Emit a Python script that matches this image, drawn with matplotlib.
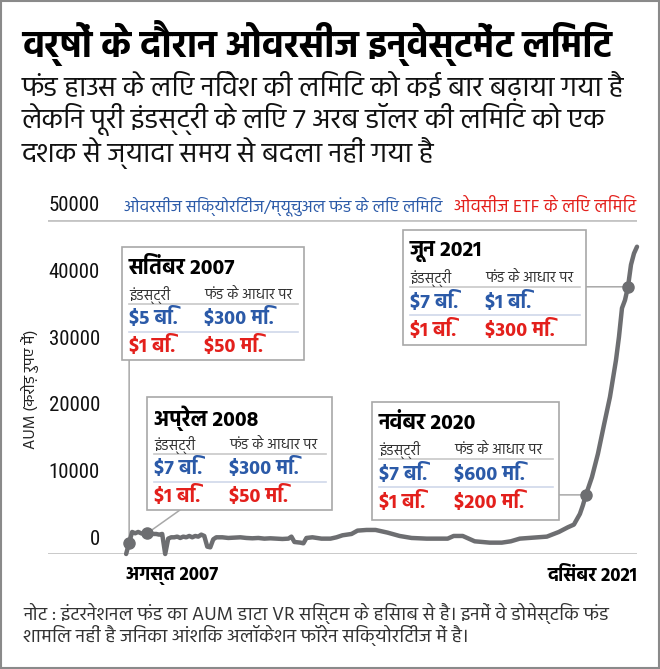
import matplotlib
matplotlib.use("Agg")
import matplotlib.pyplot as plt
from matplotlib.patches import Rectangle
from matplotlib.lines import Line2D

# ---- data ----
t = [0, 1, 2, 3, 4, 5, 6, 7, 8, 9, 10, 11, 12, 13, 14, 15, 16, 17, 18, 19, 20,
     21, 22, 23, 24, 25, 26, 27, 28, 29, 30, 32, 34, 36, 38, 40, 42, 44, 46, 48,
     50, 52, 54, 55, 56, 58, 59, 60, 62, 65, 68, 70, 72, 75, 77, 80, 83, 87, 91,
     95, 100, 104, 107, 109, 112, 114, 116, 121, 125, 128, 131, 134, 137, 140,
     144, 147, 149, 151, 152, 153, 155, 157, 159, 161, 163, 164, 165, 166, 167,
     168, 169, 170]
aum = [0, 1700, 3300, 3100, 3300, 3100, 3000, 3100, 3100, 3000, 3000, 2900, 3000,
       0, 2300, 2500, 2500, 2600, 2400, 2600, 2500, 2700, 2500, 2700, 2600, 2900,
       2700, 1100, 1000, 2200, 2500, 2500, 2400, 2450, 2500, 2400, 2350, 2400,
       2300, 2350, 2300, 2250, 2300, 2600, 1800, 1700, 1600, 2400, 2500, 2300,
       2300, 2500, 2800, 3000, 3500, 3600, 3600, 3200, 2700, 2400, 2300, 2300,
       2300, 2700, 2700, 2300, 1900, 1700, 1700, 1900, 2300, 2400, 2500, 2600,
       3300, 4000, 4400, 6000, 7300, 8850, 11500, 15000, 19300, 23500, 29000,
       32500, 36800, 38000, 40000, 43300, 45000, 46000]

yticks = [0, 10000, 20000, 30000, 40000, 50000]
x_labels = ["अगस्त 2007", "दिसंबर 2021"]

callout_t = [1, 7, 153, 167]
callout_titles = ["सितंबर 2007", "अप्रेल 2008", "नवंबर 2020", "जून 2021"]
industry_mf = ["$5 बि.", "$7 बि.", "$7 बि.", "$7 बि."]
fund_mf = ["$300 मि.", "$300 मि.", "$600 मि.", "$1 बि."]
industry_etf = ["$1 बि.", "$1 बि.", "$1 बि.", "$1 बि."]
fund_etf = ["$50 मि.", "$50 मि.", "$200 मि.", "$300 मि."]

title = "वर्षों के दौरान ओवरसीज इन्वेस्टमेंट लिमिट"
subtitle = ["फंड हाउस के लिए निवेश की लिमिट को कई बार बढ़ाया गया है",
            "लेकिन पूरी इंडस्ट्री के लिए 7 अरब डॉलर की लिमिट को एक",
            "दशक से ज्यादा समय से बदला नहीं गया है"]
legend_mf = "ओवरसीज सिक्योरिटीज/म्यूचुअल फंड के लिए लिमिट"
legend_etf = "ओवसीज ETF के लिए लिमिट"
note = ["नोट : इंटरनेशनल फंड का AUM डाटा VR सिस्टम के हिसाब से है। इनमें वे डोमेस्टिक फंड",
        "शामिल नहीं है जिनका आंशिक अलॉकेशन फॉरेन सिक्योरिटीज में है।"]

DEV = ["Hind", "DejaVu Sans"]
NUM = ["Liberation Sans Narrow", "Roboto Condensed", "DejaVu Sans"]
BLUE = "#2b5aa8"
RED = "#e3201c"
LINE = "#6d6e71"
GRID = "#c4c4c4"

W, H = 660, 669
def fx(px):
    return px / W
def fy(py):
    return 1 - py / H

fig = plt.figure(figsize=(6.6, 6.69), dpi=100)
fig.patches.append(Rectangle((0.002, 0.002), 0.996, 0.996, transform=fig.transFigure,
                             fill=False, ec="#8a8a8a", lw=1.5))

fig.text(fx(22), fy(43), title, family=DEV, fontsize=26.5, weight="bold", va="center")
for i, s in enumerate(subtitle):
    fig.text(fx(22), fy(86 + 33.5 * i), s, family=DEV, fontsize=20.1, va="center", color="#111")

ax = fig.add_axes([fx(48), fy(554), fx(637) - fx(48), fy(220) - fy(554)])
ax.set_xlim(-26, 170)
ax.set_ylim(0, 50000)
for s in ax.spines.values():
    s.set_visible(False)
ax.set_xticks([])
ax.set_yticks([])
ax.axhline(0, color=GRID, lw=2, zorder=1)
ax.axhline(50000, color=GRID, lw=2, zorder=1)

# y labels sit just above their value
for v in yticks:
    ax.annotate(f"{v}", xy=((100 - 48) / (637 - 48), v), xycoords=("axes fraction", "data"),
                xytext=(0, 10.5), textcoords="offset points", ha="right", va="center",
                family=NUM, fontsize=15, color="#111")

ax.plot(t, aum, color=LINE, lw=3.2, solid_capstyle="round", solid_joinstyle="round",
        zorder=3, clip_on=False)
mx = callout_t
my = [aum[t.index(v)] for v in callout_t]
ax.plot(mx, my, "o", color=LINE, ms=8, zorder=4, clip_on=False)

fig.text(fx(124), fy(206), legend_mf, family=DEV, fontsize=12.2, color=BLUE, va="center")
fig.text(fx(636), fy(206), legend_etf, family=DEV, fontsize=12.9, color=RED, va="center", ha="right")

ax.text(0, -0.067, x_labels[0], transform=ax.get_xaxis_transform(), family=DEV, fontsize=13.5,
        weight="bold", ha="left", va="center")
ax.text(170, -0.067, x_labels[1], transform=ax.get_xaxis_transform(), family=DEV, fontsize=13.5,
        weight="bold", ha="right", va="center")

fig.text(fx(30), fy(389), "AUM (करोड़ रुपए में)", family=DEV, fontsize=11.5, rotation=90,
         ha="center", va="center", color="#222")

# callout boxes: left, top, right, bottom in px
boxes = [(122, 247, 304, 360), (147, 397, 332, 510), (372, 402, 559, 520), (403, 230, 586, 345)]
for i, (l, tp, r, b) in enumerate(boxes):
    fig.patches.append(Rectangle((fx(l), fy(b)), fx(r) - fx(l), fy(tp) - fy(b),
                                 transform=fig.transFigure, fc="white", ec="#a8a8a8", lw=1.2, zorder=5))
    fig.text(fx(l + 7), fy(tp + 21), callout_titles[i], family=DEV, fontsize=15.5,
             weight="bold", va="center", zorder=6)
    fig.text(fx(l + 7), fy(tp + 48), "इंडस्ट्री", family=DEV, fontsize=10.5, va="center",
             color="#333", zorder=6)
    fig.text(fx(l + 82), fy(tp + 48), "फंड के आधार पर", family=DEV, fontsize=10.5, va="center",
             color="#333", zorder=6)
    fig.lines.append(Line2D([fx(l + 7), fx(r - 6)], [fy(tp + 57)] * 2, transform=fig.transFigure,
                            color="#c8c8c8", lw=1.2, zorder=6))
    fig.lines.append(Line2D([fx(l + 7), fx(r - 6)], [fy(tp + 85)] * 2, transform=fig.transFigure,
                            color="#d0d8ea", lw=1.2, zorder=6))
    fig.text(fx(l + 7), fy(tp + 71), industry_mf[i], family=DEV, fontsize=14.5, weight="bold",
             color=BLUE, va="center", zorder=6)
    fig.text(fx(l + 82), fy(tp + 71), fund_mf[i], family=DEV, fontsize=14.5, weight="bold",
             color=BLUE, va="center", zorder=6)
    fig.text(fx(l + 7), fy(tp + 99), industry_etf[i], family=DEV, fontsize=14.5, weight="bold",
             color=RED, va="center", zorder=6)
    fig.text(fx(l + 82), fy(tp + 99), fund_etf[i], family=DEV, fontsize=14.5, weight="bold",
             color=RED, va="center", zorder=6)

conn = dict(arrowstyle="-", color="#a8a8a8", lw=1.1, shrinkA=0, shrinkB=0)
# Sep 2007: vertical from box bottom
ax.annotate("", xy=(mx[0], my[0]), xytext=(mx[0], fy(360)), textcoords=("data", "figure fraction"),
            arrowprops=conn, zorder=2)
# Apr 2008: diagonal
ax.annotate("", xy=(mx[1], my[1]), xytext=(fx(180), fy(510)), textcoords="figure fraction",
            arrowprops=conn, zorder=2)
# Nov 2020 / Jun 2021: horizontal from box right edge
ax.annotate("", xy=(mx[2], my[2]), xytext=(fx(559), my[2]), textcoords=("figure fraction", "data"),
            arrowprops=conn, zorder=2)
ax.annotate("", xy=(mx[3], my[3]), xytext=(fx(586), my[3]), textcoords=("figure fraction", "data"),
            arrowprops=conn, zorder=2)

for i, s in enumerate(note):
    fig.text(fx(23), fy(613 + 22 * i), s, family=DEV, fontsize=13.8, va="center", color="#333")

fig.savefig("out.png", dpi=100)
